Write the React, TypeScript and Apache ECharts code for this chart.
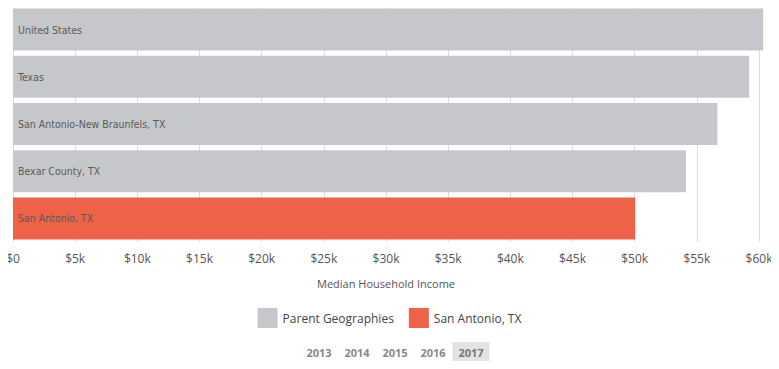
import React, { useEffect, useRef } from "react";
import * as echarts from "echarts";

const categories = [
  "United States",
  "Texas",
  "San Antonio-New Braunfels, TX",
  "Bexar County, TX",
  "San Antonio, TX",
];
const parentValues: (number | string)[] = [60336, 59206, 56656, 54122, "-"];
const cityValues: (number | string)[] = ["-", "-", "-", "-", 50044];
const seriesNames = ["Parent Geographies", "San Antonio, TX"];
const years = ["2013", "2014", "2015", "2016", "2017"];
const selectedYear = "2017";
const axisTitle = "Median Household Income";

const GRAY = "#c6c7ca";
const ORANGE = "#ee6347";

export default function App() {
  const ref = useRef<HTMLDivElement>(null);
  useEffect(() => {
    if (!ref.current) return;
    const chart = echarts.init(ref.current, null, { renderer: "svg" });
    const yearSpacing = 38;
    const yearStart = 319;
    const yearGraphics: any[] = [];
    years.forEach((y, i) => {
      const cx = yearStart + i * yearSpacing;
      if (y === selectedYear) {
        yearGraphics.push({
          type: "rect",
          shape: { x: cx - 18.5, y: 342, width: 37, height: 20 },
          style: { fill: "#e3e3e3" },
        });
      }
      yearGraphics.push({
        type: "text",
        x: cx,
        y: 352,
        style: {
          text: y,
          fill: y === selectedYear ? "#777" : "#888",
          font: "bold 11px 'Open Sans', sans-serif",
          textAlign: "center",
          textVerticalAlign: "middle",
        },
      });
    });
    const labelStyle = {
      show: true,
      position: "insideLeft" as const,
      distance: 5,
      formatter: (p: any) => p.name,
      color: "#5a5a5a",
      fontSize: 10.5,
      fontFamily: "'DejaVu Sans Condensed', sans-serif",
    };
    chart.setOption({
      animation: false,
      grid: { left: 13, right: 20, top: 6, bottom: 127, containLabel: false },
      legend: {
        data: seriesNames,
        top: 303,
        left: "center",
        itemWidth: 20,
        itemHeight: 20,
        itemGap: 15,
        icon: "rect",
        textStyle: {
          color: "#444",
          fontSize: 12,
          fontFamily: "'Open Sans', sans-serif",
        },
      },
      xAxis: {
        type: "value",
        min: 0,
        max: 60000,
        interval: 5000,
        name: axisTitle,
        nameLocation: "middle",
        nameGap: 36,
        nameTextStyle: {
          color: "#555",
          fontSize: 11,
          fontFamily: "'Open Sans', sans-serif",
        },
        axisLine: { show: false },
        axisTick: { show: false },
        axisLabel: {
          color: "#555",
          fontSize: 12,
          margin: 10,
          fontFamily: "'Open Sans', sans-serif",
          formatter: (v: number) => (v === 0 ? "$0" : "$" + v / 1000 + "k"),
        },
        splitLine: { show: true, lineStyle: { color: "#dedede", width: 1 } },
      },
      yAxis: {
        type: "category",
        inverse: true,
        data: categories,
        axisLine: { show: false },
        axisTick: { show: false },
        axisLabel: { show: false },
        splitLine: { show: false },
      },
      series: [
        {
          name: seriesNames[0],
          type: "bar",
          stack: "all",
          data: parentValues,
          itemStyle: { color: GRAY },
          barCategoryGap: "11%",
          clip: false,
          label: labelStyle,
        },
        {
          name: seriesNames[1],
          type: "bar",
          stack: "all",
          data: cityValues,
          itemStyle: { color: ORANGE },
          barCategoryGap: "11%",
          clip: false,
          label: labelStyle,
        },
      ],
      graphic: yearGraphics,
    });
    return () => chart.dispose();
  }, []);
  return <div ref={ref} style={{ width: 779, height: 369, margin: -8 }} />;
}
